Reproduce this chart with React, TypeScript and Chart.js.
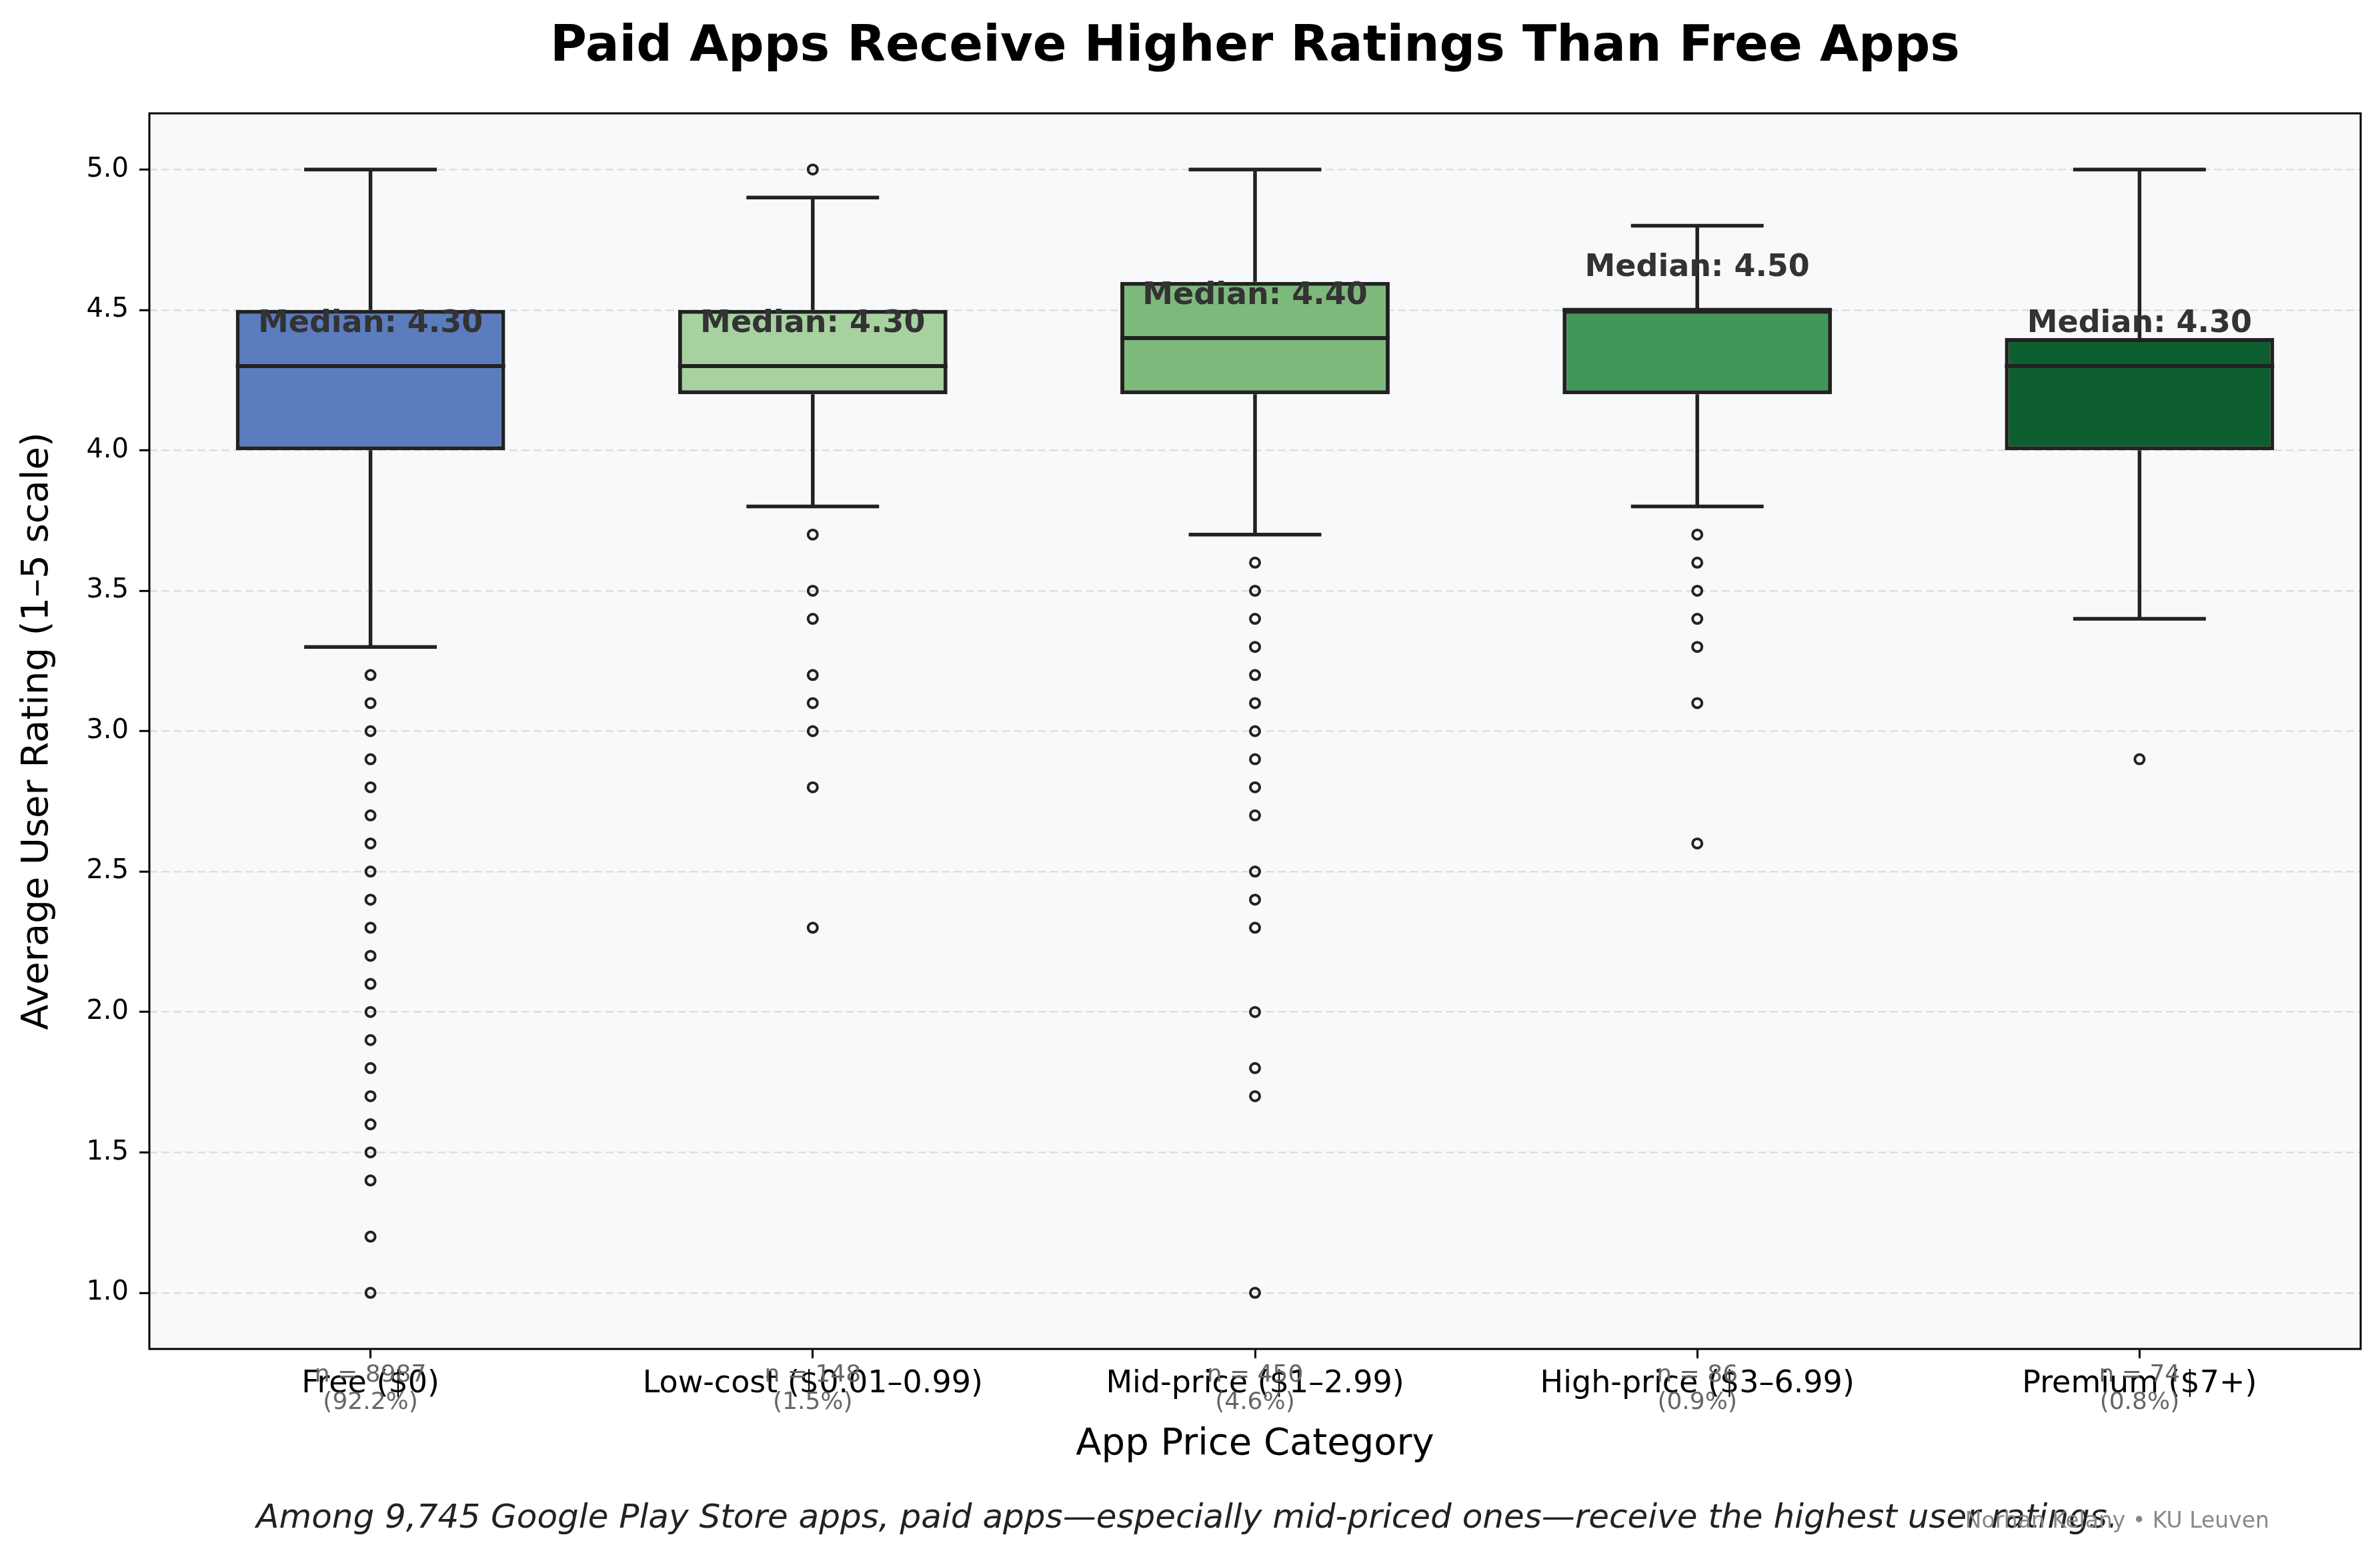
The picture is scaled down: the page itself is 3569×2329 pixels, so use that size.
import React, { useEffect, useRef } from "react";
import { Chart, registerables } from "chart.js";

Chart.register(...registerables);

// ---------------- data ----------------
const categories = [
  "Free ($0)",
  "Low-cost ($0.01–0.99)",
  "Mid-price ($1–2.99)",
  "High-price ($3–6.99)",
  "Premium ($7+)",
];
const whiskerLow = [3.3, 3.8, 3.7, 3.8, 3.4];
const q1 = [4.0, 4.2, 4.2, 4.2, 4.0];
const medians = [4.3, 4.3, 4.4, 4.5, 4.3];
const q3 = [4.5, 4.5, 4.6, 4.5, 4.4];
const whiskerHigh = [5.0, 4.9, 5.0, 4.8, 5.0];

const outliersFree = [3.2, 3.1, 3.0, 2.9, 2.8, 2.7, 2.6, 2.5, 2.4, 2.3, 2.2, 2.1, 2.0, 1.9, 1.8, 1.7, 1.6, 1.5, 1.4, 1.2, 1.0];
const outliersLowCost = [5.0, 3.7, 3.5, 3.4, 3.2, 3.1, 3.0, 2.8, 2.3];
const outliersMidPrice = [3.6, 3.5, 3.4, 3.3, 3.2, 3.1, 3.0, 2.9, 2.8, 2.7, 2.5, 2.4, 2.3, 2.0, 1.8, 1.7, 1.0];
const outliersHighPrice = [3.7, 3.6, 3.5, 3.4, 3.3, 3.1, 2.6];
const outliersPremium = [2.9];
const outlierGroups = [outliersFree, outliersLowCost, outliersMidPrice, outliersHighPrice, outliersPremium];

const counts = [8987, 148, 450, 86, 74];
const shares = [92.2, 1.5, 4.6, 0.9, 0.8];

const yTicks = [1.0, 1.5, 2.0, 2.5, 3.0, 3.5, 4.0, 4.5, 5.0];

const titleText = "Paid Apps Receive Higher Ratings Than Free Apps";
const xTitle = "App Price Category";
const yTitle = "Average User Rating (1–5 scale)";
const footerText =
  "Among 9,745 Google Play Store apps, paid apps—especially mid-priced ones—receive the highest user ratings.";
const creditText = "Norhan Kelany • KU Leuven";

// ---------------- style ----------------
const boxColors = ["#5b7cbe", "#a7d2a0", "#7eb97c", "#41975a", "#0d5f2f"];
const LINE = "#222222";
const FONT = "'DejaVu Sans', 'Liberation Sans', sans-serif";
const W = 3569;
const H = 2329;

const boxExtras = {
  id: "boxExtras",
  beforeDraw(chart: any) {
    const { ctx, chartArea } = chart;
    ctx.save();
    ctx.fillStyle = "#f8f9fa";
    ctx.fillRect(chartArea.left, chartArea.top, chartArea.right - chartArea.left, chartArea.bottom - chartArea.top);
    ctx.restore();
  },
  beforeDatasetsDraw(chart: any) {
    const { ctx } = chart;
    const xs = chart.scales.x;
    const ys = chart.scales.y;
    const step = xs.getPixelForValue(1) - xs.getPixelForValue(0);
    const half = (step * 0.3) / 2;
    ctx.save();
    ctx.strokeStyle = LINE;
    ctx.lineWidth = 5.5;
    ctx.lineCap = "butt";
    categories.forEach((_, i) => {
      const cx = xs.getPixelForValue(i);
      const yl = ys.getPixelForValue(whiskerLow[i]);
      const yh = ys.getPixelForValue(whiskerHigh[i]);
      const y1 = ys.getPixelForValue(q1[i]);
      const y3 = ys.getPixelForValue(q3[i]);
      ctx.beginPath();
      ctx.moveTo(cx, y1);
      ctx.lineTo(cx, yl);
      ctx.moveTo(cx - half, yl);
      ctx.lineTo(cx + half, yl);
      ctx.moveTo(cx, y3);
      ctx.lineTo(cx, yh);
      ctx.moveTo(cx - half, yh);
      ctx.lineTo(cx + half, yh);
      ctx.stroke();
    });
    ctx.restore();
  },
  afterDatasetsDraw(chart: any) {
    const { ctx } = chart;
    const ys = chart.scales.y;
    const meta = chart.getDatasetMeta(0);
    ctx.save();
    ctx.strokeStyle = LINE;
    ctx.lineWidth = 6;
    meta.data.forEach((bar: any, i: number) => {
      const p = bar.getProps(["x", "width"], true);
      const ym = ys.getPixelForValue(medians[i]);
      ctx.beginPath();
      ctx.moveTo(p.x - p.width / 2, ym);
      ctx.lineTo(p.x + p.width / 2, ym);
      ctx.stroke();
    });
    ctx.fillStyle = "#333333";
    ctx.font = `bold 46px ${FONT}`;
    ctx.textAlign = "center";
    ctx.textBaseline = "middle";
    meta.data.forEach((bar: any, i: number) => {
      const p = bar.getProps(["x"], true);
      const yl = ys.getPixelForValue(medians[i] + 0.15);
      ctx.fillText(`Median: ${medians[i].toFixed(2)}`, p.x, yl);
    });
    ctx.restore();
  },
  afterDraw(chart: any) {
    const { ctx, chartArea } = chart;
    const xs = chart.scales.x;
    ctx.save();
    // frame
    ctx.strokeStyle = "#000000";
    ctx.lineWidth = 3;
    ctx.strokeRect(chartArea.left, chartArea.top, chartArea.right - chartArea.left, chartArea.bottom - chartArea.top);
    // title centred over the plot area
    ctx.fillStyle = "#000000";
    ctx.font = `bold 75px ${FONT}`;
    ctx.textAlign = "center";
    ctx.textBaseline = "alphabetic";
    ctx.fillText(titleText, (chartArea.left + chartArea.right) / 2, 91);
    // n labels
    ctx.fillStyle = "#666666";
    ctx.font = `36px ${FONT}`;
    categories.forEach((_, i) => {
      const cx = xs.getPixelForValue(i);
      ctx.fillText(`n = ${counts[i]}`, cx, chartArea.bottom + 49);
      ctx.fillText(`(${shares[i].toFixed(1)}%)`, cx, chartArea.bottom + 90);
    });
    // footer
    ctx.fillStyle = "#222222";
    ctx.font = `italic 50px ${FONT}`;
    ctx.fillText(footerText, 1780, chart.height - 38);
    // credit
    ctx.fillStyle = "#888888";
    ctx.font = `33px ${FONT}`;
    ctx.textAlign = "right";
    ctx.fillText(creditText, 3403, chart.height - 38);
    ctx.restore();
  },
};

export default function App() {
  const ref = useRef<HTMLCanvasElement | null>(null);

  useEffect(() => {
    document.body.style.margin = "0";
    const canvas = ref.current;
    if (!canvas) return;

    const outlierPoints: { x: string; y: number }[] = [];
    outlierGroups.forEach((grp, i) => {
      grp.forEach((v) => outlierPoints.push({ x: categories[i], y: v }));
    });

    const chart = new Chart(canvas, {
      type: "bar",
      data: {
        labels: categories,
        datasets: [
          {
            type: "bar",
            label: "IQR",
            data: q1.map((v, i) => [v, q3[i]]) as any,
            backgroundColor: boxColors,
            borderColor: LINE,
            borderWidth: 6,
            borderSkipped: false,
            barPercentage: 0.609,
            categoryPercentage: 1,
          } as any,
          {
            type: "scatter",
            label: "Outliers",
            data: outlierPoints as any,
            showLine: false,
            pointRadius: 7,
            pointHoverRadius: 7,
            pointBorderWidth: 4,
            pointBorderColor: LINE,
            pointBackgroundColor: "rgba(0,0,0,0)",
          } as any,
        ],
      },
      options: {
        animation: false,
        responsive: true,
        maintainAspectRatio: false,
        devicePixelRatio: 1,
        events: [],
        layout: { padding: { left: 0, right: 29, top: 170, bottom: 0 } },
        plugins: {
          legend: { display: false },
          tooltip: { enabled: false },
          title: { display: false },
        },
        scales: {
          x: {
            type: "category",
            offset: true,
            grid: {
              display: true,
              offset: false,
              drawOnChartArea: false,
              drawTicks: true,
              tickLength: 14,
              tickWidth: 3,
              tickColor: "#000000",
            },
            border: { display: false },
            ticks: {
              color: "#000000",
              font: { family: FONT, size: 46 },
              padding: 11,
              maxRotation: 0,
              autoSkip: false,
            },
            title: {
              display: true,
              text: xTitle,
              color: "#000000",
              font: { family: FONT, size: 56 },
              padding: { top: 0, bottom: 129 },
            },
            afterFit: (s: any) => {
              s.height = 306;
            },
          },
          y: {
            type: "linear",
            min: 0.8,
            max: 5.2,
            afterBuildTicks: (s: any) => {
              s.ticks = yTicks.map((v) => ({ value: v }));
            },
            grid: {
              display: true,
              color: "#dedede",
              lineWidth: 2.5,
              drawTicks: true,
              tickLength: 15,
              tickWidth: 3,
              tickColor: "#000000",
              tickBorderDash: [],
            },
            border: { display: false, dash: [12, 6] },
            ticks: {
              color: "#000000",
              font: { family: FONT, size: 40 },
              padding: 16,
              callback: (v: any) => Number(v).toFixed(1),
            },
            title: {
              display: true,
              text: yTitle,
              color: "#000000",
              font: { family: FONT, size: 56 },
              padding: { top: 23, bottom: 0 },
            },
            afterFit: (s: any) => {
              s.width = 224;
            },
          },
        },
      },
      plugins: [boxExtras],
    });

    return () => chart.destroy();
  }, []);

  return (
    <div style={{ width: `${W}px`, height: `${H}px`, position: "relative", background: "#ffffff" }}>
      <canvas ref={ref} />
    </div>
  );
}
